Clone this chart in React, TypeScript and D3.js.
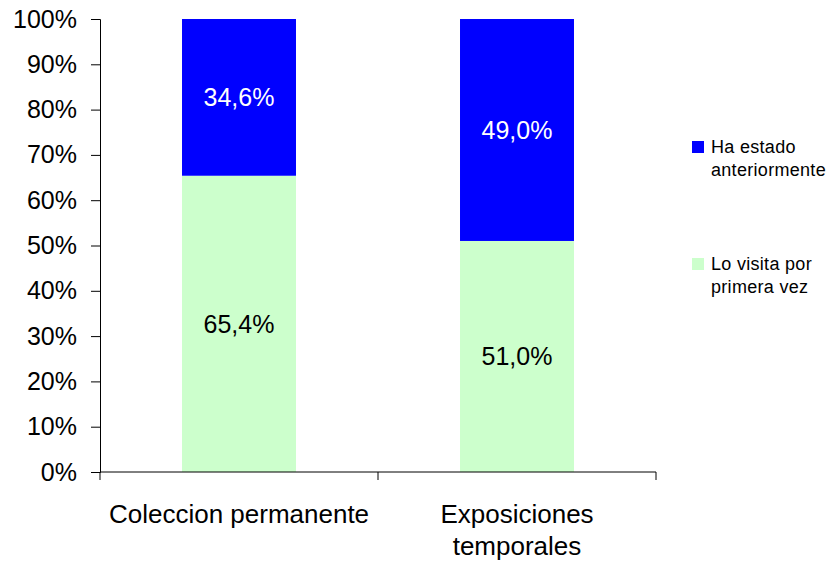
import React, { useRef, useEffect } from "react";
import * as d3 from "d3";

const categories = ["Coleccion permanente", "Exposiciones temporales"];
const categoryLines = [["Coleccion permanente"], ["Exposiciones", "temporales"]];
const seriesNames = ["Lo visita por primera vez", "Ha estado anteriormente"];
const firstVisit = [65.4, 51.0];
const beenBefore = [34.6, 49.0];
const yTicks = [0, 10, 20, 30, 40, 50, 60, 70, 80, 90, 100];
const legendLines = [["Ha estado", "anteriormente"], ["Lo visita por", "primera vez"]];

const colors = ["#CCFFCC", "#0000FF"];
const labelColors = ["#000", "#fff"];

const App: React.FC = () => {
    const svgRef = useRef<SVGSVGElement>(null);

    useEffect(() => {
        if (!svgRef.current) return;
        const svg = d3.select(svgRef.current);
        svg.selectAll("*").remove();

        const font = "'Liberation Sans', Arial, sans-serif";
        const left = 100, right = 656, top = 19, bottom = 472;

        const x = d3.scaleBand<string>()
            .domain(categories)
            .range([left, right])
            .paddingInner(0.59)
            .paddingOuter(0.295);

        const y = d3.scaleLinear().domain([0, 100]).range([bottom, top]);

        const rows = categories.map((c, i) => ({ cat: c, first: firstVisit[i], before: beenBefore[i] }));
        const stack = d3.stack<any>().keys(["first", "before"])(rows);

        // bars
        stack.forEach((layer, li) => {
            svg.append("g")
                .selectAll("rect")
                .data(layer)
                .enter()
                .append("rect")
                .attr("x", d => x(d.data.cat)!)
                .attr("width", x.bandwidth())
                .attr("y", d => y(d[1]))
                .attr("height", d => y(d[0]) - y(d[1]))
                .attr("fill", colors[li]);

            svg.append("g")
                .selectAll("text")
                .data(layer)
                .enter()
                .append("text")
                .attr("x", d => x(d.data.cat)! + x.bandwidth() / 2)
                .attr("y", d => y((d[0] + d[1]) / 2))
                .attr("dy", "0.35em")
                .attr("text-anchor", "middle")
                .style("font-family", font)
                .style("font-size", "25px")
                .attr("fill", labelColors[li])
                .text(d => (d[1] - d[0]).toFixed(1).replace(".", ",") + "%");
        });

        // y axis
        const yAxis = svg.append("g")
            .attr("transform", `translate(${left},0)`)
            .call(d3.axisLeft(y).tickValues(yTicks).tickSize(9).tickPadding(14).tickFormat(d => `${d}%`));
        yAxis.select(".domain").attr("stroke", "#000");
        yAxis.selectAll("line").attr("stroke", "#000");
        yAxis.selectAll("text")
            .style("font-family", font)
            .style("font-size", "25px")
            .attr("fill", "#000");

        // x axis
        const g = svg.append("g");
        g.append("line")
            .attr("x1", left).attr("x2", right)
            .attr("y1", bottom).attr("y2", bottom)
            .attr("stroke", "#000");
        const step = x.step();
        d3.range(categories.length + 1).forEach(i => {
            const tx = left + i * step;
            g.append("line")
                .attr("x1", tx).attr("x2", tx)
                .attr("y1", bottom).attr("y2", bottom + 8)
                .attr("stroke", "#000");
        });
        categories.forEach((c, i) => {
            const t = g.append("text")
                .attr("x", x(c)! + x.bandwidth() / 2)
                .attr("y", 523)
                .attr("text-anchor", "middle")
                .style("font-family", font)
                .style("font-size", "26px")
                .attr("fill", "#000");
            categoryLines[i].forEach((line, j) => {
                t.append("tspan")
                    .attr("x", x(c)! + x.bandwidth() / 2)
                    .attr("dy", j === 0 ? 0 : 32)
                    .text(line);
            });
        });

        // legend
        const legendOrder = [1, 0];
        legendOrder.forEach((si, k) => {
            const ly = 141 + k * 117;
            const lg = svg.append("g").attr("aria-label", seriesNames[si]);
            lg.append("rect")
                .attr("x", 692).attr("y", ly)
                .attr("width", 12).attr("height", 12)
                .attr("fill", colors[si]);
            const t = lg.append("text")
                .attr("x", 711)
                .attr("y", ly + 12)
                .style("font-family", font)
                .style("font-size", "18px")
                .style("letter-spacing", "0.3px")
                .attr("fill", "#000");
            legendLines[k].forEach((line, j) => {
                t.append("tspan")
                    .attr("x", 711)
                    .attr("dy", j === 0 ? 0 : 23)
                    .text(line);
            });
        });
    }, []);

    return (
        <svg
            ref={svgRef}
            width={832}
            height={562}
            style={{ position: "absolute", left: 0, top: 0, background: "#fff" }}
        />
    );
};

export default App;
